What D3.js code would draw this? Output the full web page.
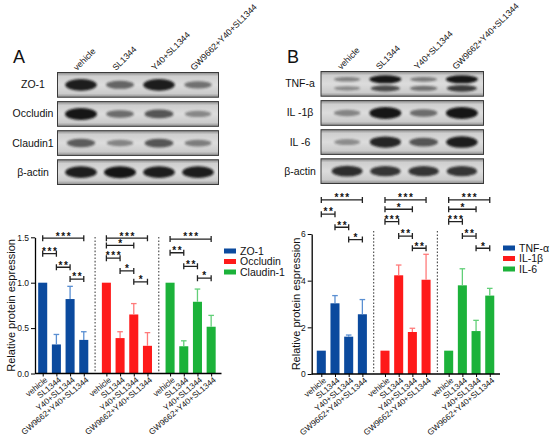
<!DOCTYPE html>
<html>
<head>
<meta charset="utf-8">
<script src="https://cdn.jsdelivr.net/npm/d3@7"></script>
<style>
body { margin: 0; background: #fff; }
svg { display: block; }
text { font-family: Arial, "Liberation Sans", sans-serif; fill: #111; }
</style>
</head>
<body>
<div id="fig"></div>
<script>
// lanes / x categories shared by blots and bar charts
var lanes = ["vehicle", "SL1344", "Y40+SL1344", "GW9662+Y40+SL1344"]

// western blot rows, band strength per lane (0..1)
var blotRowsA = ["ZO-1", "Occludin", "Claudin1", "β-actin"]
var blotBandsA = [
    [[0.95, 0.5, 0.95, 0.42]],
    [[1.0, 0.45, 0.6, 0.28]],
    [[0.55, 0.3, 0.6, 0.35]],
    [[0.95, 1.0, 0.95, 0.95]]
]
var blotRowsB = ["TNF-a", "IL -1β", "IL -6", "β-actin"]
var blotBandsB = [
    [[0.3, 1.0, 0.35, 1.0], [0.25, 0.65, 0.4, 0.75]],
    [[0.3, 1.0, 0.45, 1.0]],
    [[0.25, 0.9, 0.6, 0.95]],
    [[0.85, 0.8, 0.8, 0.8]]
]

// bar chart A
var groupsA = ["ZO-1", "Occludin", "Claudin-1"]
var meansA = [
    [1.0, 0.32, 0.82, 0.37],
    [1.0, 0.39, 0.65, 0.305],
    [1.0, 0.30, 0.79, 0.515]
]
var errA = [
    [0, 0.11, 0.14, 0.09],
    [0, 0.07, 0.12, 0.145],
    [0, 0.06, 0.14, 0.125]
]
var ticksA = [0, 0.5, 1.0, 1.5]
// [group, from lane, to lane, level, label]
var sigA = [
    [0, 0, 3, 1.49, "***"], [0, 0, 1, 1.32, "***"], [0, 1, 2, 1.17, "**"], [0, 2, 3, 1.04, "**"],
    [1, 0, 3, 1.49, "***"], [1, 0, 2, 1.41, "*"], [1, 0, 1, 1.27, "***"], [1, 1, 2, 1.13, "*"], [1, 2, 3, 1.01, "*"],
    [2, 0, 3, 1.48, "***"], [2, 0, 1, 1.33, "**"], [2, 1, 2, 1.18, "**"], [2, 2, 3, 1.05, "*"]
]

// bar chart B
var groupsB = ["TNF-α", "IL-1β", "IL-6"]
var meansB = [
    [1.0, 3.03, 1.6, 2.56],
    [1.0, 4.23, 1.8, 4.04],
    [1.0, 3.8, 1.84, 3.36]
]
var errB = [
    [0, 0.33, 0.07, 0.63],
    [0, 0.44, 0.16, 1.09],
    [0, 0.71, 0.46, 0.31]
]
var ticksB = [0, 2, 4, 6]
var sigB = [
    [0, 0, 3, 7.46, "***"], [0, 0, 1, 6.85, "**"], [0, 1, 2, 6.29, "**"], [0, 2, 3, 5.76, "*"],
    [1, 0, 3, 7.46, "***"], [1, 0, 2, 7.06, "*"], [1, 0, 1, 6.53, "***"], [1, 1, 2, 5.91, "**"], [1, 2, 3, 5.39, "**"],
    [2, 0, 3, 7.46, "***"], [2, 0, 2, 7.06, "*"], [2, 0, 1, 6.53, "***"], [2, 1, 2, 5.91, "**"], [2, 2, 3, 5.39, "*"]
]

var barColors = ["#0b4a9e", "#fe1a1a", "#1cb23a"]
var errColors = ["#5a8fd2", "#ff7a7a", "#62cf78"]

var svg = d3.select("#fig").append("svg")
            .attr("width", 550)
            .attr("height", 436)

var defs = svg.append("defs")
defs.append("filter").attr("id", "blur")
    .attr("x", "-30%").attr("y", "-80%").attr("width", "160%").attr("height", "260%")
    .append("feGaussianBlur").attr("stdDeviation", 1.3)
var grad = defs.append("linearGradient").attr("id", "film")
    .attr("x1", 0).attr("y1", 0).attr("x2", 0).attr("y2", 1)
grad.append("stop").attr("offset", "0%").attr("stop-color", "#8a8a8a")
grad.append("stop").attr("offset", "15%").attr("stop-color", "#cfcfcf")
grad.append("stop").attr("offset", "50%").attr("stop-color", "#dcdcdc")
grad.append("stop").attr("offset", "85%").attr("stop-color", "#cbcbcb")
grad.append("stop").attr("offset", "100%").attr("stop-color", "#8e8e8e")

function drawBlot(o) {
    var g = svg.append("g")
    var lane = d3.scaleBand().domain(lanes).range(o.laneRange)
    var row = d3.scaleBand().domain(o.rows).range(o.rowRange).paddingInner(0.15)

    g.append("text").attr("x", o.letterX).attr("y", 63)
        .attr("font-size", 18).text(o.letter)

    lanes.forEach(function (l) {
        var x = lane(l) + lane.bandwidth() / 2 + o.labelDx
        g.append("text")
            .attr("transform", `translate(${x}, ${o.labelY}) rotate(-45)`)
            .attr("font-size", 8.7)
            .text(l)
    })

    o.rows.forEach(function (name, i) {
        var y0 = row(name), h = row.bandwidth()
        g.append("rect")
            .attr("x", o.boxX[0]).attr("y", y0)
            .attr("width", o.boxX[1] - o.boxX[0]).attr("height", h)
            .attr("fill", "url(#film)")
            .attr("stroke", "#3a3a3a").attr("stroke-width", 1)
        g.append("text")
            .attr("x", o.labelX).attr("y", y0 + h / 2 + 3.5)
            .attr("text-anchor", "middle").attr("font-size", 10.5)
            .text(name)

        var bands = o.bands[i]
        bands.forEach(function (vals, k) {
            var off = bands.length > 1 ? (k === 0 ? -4.5 : 4.5) : 0
            g.selectAll(null).data(vals).enter().append("ellipse")
                .attr("cx", (v, j) => lane(lanes[j]) + lane.bandwidth() / 2)
                .attr("cy", y0 + h / 2 + off)
                .attr("rx", v => 12 + 4 * v)
                .attr("ry", v => (bands.length > 1 ? 1.5 : 2) + (bands.length > 1 ? 2.5 : 4) * v)
                .attr("fill", "#151515")
                .attr("opacity", v => 0.2 + 0.8 * v)
                .attr("filter", "url(#blur)")
        })
    })
}

drawBlot({
    letter: "A", letterX: 13, rows: blotRowsA, bands: blotBandsA,
    laneRange: [61.5, 217.5], rowRange: [72.5, 184.5], boxX: [57.5, 218.5],
    labelX: 33, labelDx: -4, labelY: 71
})
drawBlot({
    letter: "B", letterX: 287, rows: blotRowsB, bands: blotBandsB,
    laneRange: [328, 481], rowRange: [71.5, 183.5], boxX: [321, 483.5],
    labelX: 300, labelDx: -6, labelY: 70
})

function drawChart(o) {
    var g = svg.append("g")
    var y = d3.scaleLinear().domain([0, o.ymax]).range([o.y0, o.y1])
    var xg = d3.scaleBand().domain(o.groups).range(o.xRange).paddingInner(0.14)
    var xl = d3.scaleBand().domain(lanes).range([0, xg.bandwidth()])
                .paddingInner(0.34).paddingOuter(0.17)
    var cx = (gi, li) => xg(o.groups[gi]) + xl(lanes[li]) + xl.bandwidth() / 2
    var gap = xg.step() - xg.bandwidth()

    // dotted separators
    o.groups.slice(1).forEach(function (gr) {
        g.append("line")
            .attr("x1", xg(gr) - gap / 2).attr("x2", xg(gr) - gap / 2)
            .attr("y1", o.sepTop).attr("y2", o.y0)
            .attr("stroke", "#444").attr("stroke-width", 1.1)
            .attr("stroke-dasharray", "1.6,1.8")
    })

    // bars + error bars
    o.groups.forEach(function (gr, gi) {
        var rows = o.means[gi].map((m, li) => ({ m: m, e: o.err[gi][li], li: li }))
        g.selectAll(null).data(rows).enter().append("rect")
            .attr("x", d => cx(gi, d.li) - xl.bandwidth() / 2)
            .attr("width", xl.bandwidth())
            .attr("y", d => y(d.m))
            .attr("height", d => o.y0 - y(d.m))
            .attr("fill", barColors[gi])
        var eb = rows.filter(d => d.e > 0)
        g.selectAll(null).data(eb).enter().append("line")
            .attr("x1", d => cx(gi, d.li)).attr("x2", d => cx(gi, d.li))
            .attr("y1", d => y(d.m)).attr("y2", d => y(d.m + d.e))
            .attr("stroke", errColors[gi]).attr("stroke-width", 1.3)
        g.selectAll(null).data(eb).enter().append("line")
            .attr("x1", d => cx(gi, d.li) - 2.8).attr("x2", d => cx(gi, d.li) + 2.8)
            .attr("y1", d => y(d.m + d.e)).attr("y2", d => y(d.m + d.e))
            .attr("stroke", errColors[gi]).attr("stroke-width", 1.3)
    })

    // y axis
    var ya = g.append("g").attr("transform", `translate(${o.axisX[0]}, 0)`)
        .call(d3.axisLeft(y).tickValues(o.ticks).tickFormat(o.fmt)
                .tickSize(4).tickSizeOuter(0).tickPadding(2))
    ya.select(".domain").attr("stroke-width", 1.3)
    ya.selectAll("text").attr("font-size", 8.5).attr("font-family", "Arial, 'Liberation Sans', sans-serif")

    // x axis
    g.append("line")
        .attr("x1", o.axisX[0]).attr("x2", o.axisX[1])
        .attr("y1", o.y0).attr("y2", o.y0)
        .attr("stroke", "#000").attr("stroke-width", 1.3)
    var keys = [], centers = []
    o.groups.forEach(function (gr, gi) {
        lanes.forEach(function (l, li) { keys.push(gi + "|" + l); centers.push(cx(gi, li)) })
    })
    var xo = d3.scaleOrdinal().domain(keys).range(centers)
    var xa = g.append("g").attr("transform", `translate(0, ${o.y0})`)
        .call(d3.axisBottom(xo).tickSize(3).tickSizeOuter(0).tickFormat(k => k.split("|")[1]))
    xa.select(".domain").remove()
    xa.selectAll("text")
        .attr("y", 0).attr("dy", "0.35em")
        .attr("transform", "translate(3, 5) rotate(-40)")
        .attr("text-anchor", "end")
        .attr("font-size", 8.2)
        .attr("font-family", "Arial, 'Liberation Sans', sans-serif")

    // y label
    g.append("text")
        .attr("transform", `translate(${o.ylabX}, ${(o.y0 + o.y1) / 2}) rotate(-90)`)
        .attr("text-anchor", "middle").attr("font-size", 11)
        .text("Relative protein espression")

    // significance brackets
    o.sig.forEach(function (s) {
        var x1 = cx(s[0], s[1]), x2 = cx(s[0], s[2]), yy = y(s[3])
        g.append("path")
            .attr("d", `M${x1},${yy - 3}V${yy + 3}M${x1},${yy}H${x2}M${x2},${yy - 3}V${yy + 3}`)
            .attr("stroke", "#222").attr("stroke-width", 1.3).attr("fill", "none")
        g.append("text")
            .attr("x", (x1 + x2) / 2).attr("dx", 0.8).attr("y", yy + 1.3)
            .attr("text-anchor", "middle").attr("font-size", 10).attr("font-weight", "bold")
            .attr("letter-spacing", 1.6)
            .text(s[4])
    })

    // legend
    o.groups.forEach(function (gr, gi) {
        var ly = o.legY + gi * 10.5
        g.append("rect").attr("x", o.legX).attr("y", ly - 2.5)
            .attr("width", 12).attr("height", 5).attr("fill", barColors[gi])
        g.append("text").attr("x", o.legX + 16).attr("y", ly + 3.5)
            .attr("font-size", 10.5).text(gr)
    })
}

drawChart({
    groups: groupsA, means: meansA, err: errA, ticks: ticksA, sig: sigA,
    ymax: 1.5, y0: 373.5, y1: 237.3, fmt: d3.format(".1f"),
    xRange: [35.85, 218], axisX: [35, 221.5], sepTop: 237,
    ylabX: 15, legX: 224, legY: 251
})
drawChart({
    groups: groupsB, means: meansB, err: errB, ticks: ticksB, sig: sigB,
    ymax: 6, y0: 374, y1: 234, fmt: d3.format("d"),
    xRange: [314.45, 496.6], axisX: [311.7, 500], sepTop: 231,
    ylabX: 300, legX: 503, legY: 248
})
</script>
</body>
</html>
